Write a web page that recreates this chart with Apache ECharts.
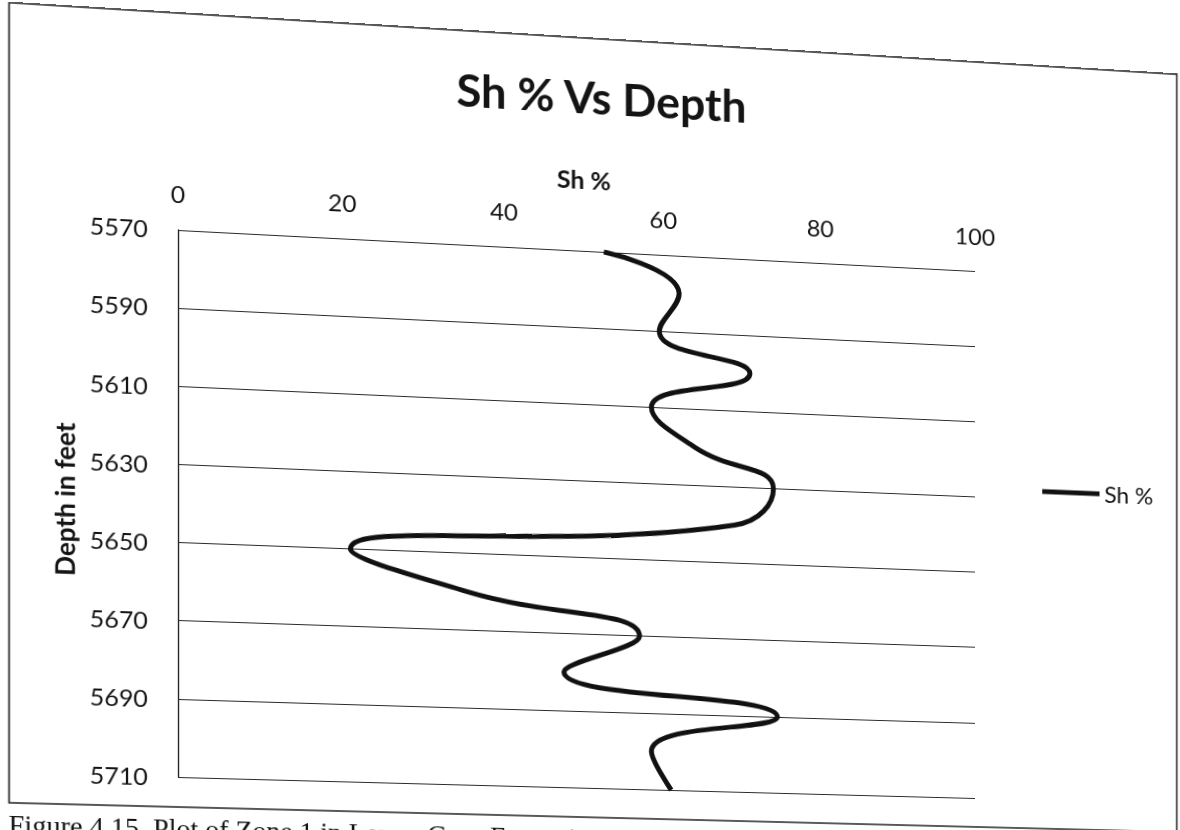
<!DOCTYPE html>
<html>
<head>
<meta charset="utf-8">
<script src="https://cdn.jsdelivr.net/npm/echarts@6/dist/echarts.min.js"></script>
<style>
  html, body { margin: 0; padding: 0; background: #fff; width: 1180px; height: 830px; overflow: hidden; }
  #sheet { position: absolute; left: 0; top: 0; width: 1180px; height: 840px; transform-origin: 0 0; }
</style>
</head>
<body>
<div id="sheet"></div>
<script>
// Zone 1 log: depth (ft) and Sh % read every 10 ft
const depthFeet = [5570, 5580, 5590, 5600, 5610, 5620, 5630, 5640, 5650, 5660, 5670, 5680, 5690, 5700, 5710];
const shPercent = [52.5, 62, 59.5, 71, 58.5, 64, 74, 69, 21, 35.5, 57, 47.5, 74.5, 58.5, 61];

// Axis ranges
const shRange = [0, 100];
const shStep = 20;
const depthRange = [5570, 5710];
const depthStep = 20;

const titleText = 'Sh % Vs Depth';
const seriesName = 'Sh %';
const depthName = 'Depth in feet';
const captionText = 'Figure 4.15. Plot of Zone 1 in Lower Goru Formation';

// Plot rectangle inside the sheet
const PLOT = { left: 166, top: 218, width: 797, height: 547 };
// Where the plot corners land on the printed page (TL, TR, BR, BL)
const PAGE_QUAD = [[178, 230], [975, 271], [975, 798], [178, 777]];

// Projective map: unit square -> quad, then expressed for the sheet's pixel frame
function squareToQuad(q) {
  const [x0, y0] = q[0], [x1, y1] = q[1], [x2, y2] = q[2], [x3, y3] = q[3];
  const dx1 = x1 - x2, dx2 = x3 - x2, dx3 = x0 - x1 + x2 - x3;
  const dy1 = y1 - y2, dy2 = y3 - y2, dy3 = y0 - y1 + y2 - y3;
  const den = dx1 * dy2 - dx2 * dy1;
  const g = (dx3 * dy2 - dx2 * dy3) / den;
  const h = (dx1 * dy3 - dx3 * dy1) / den;
  return {
    a: x1 - x0 + g * x1, b: x3 - x0 + h * x3, c: x0,
    d: y1 - y0 + g * y1, e: y3 - y0 + h * y3, f: y0, g, h
  };
}
function sheetTransform() {
  const { a, b, c, d, e, f, g, h } = squareToQuad(PAGE_QUAD);
  const L = PLOT.left, T = PLOT.top, W = PLOT.width, H = PLOT.height;
  const m = [
    a / W, d / W, 0, g / W,
    b / H, e / H, 0, h / H,
    0, 0, 1, 0,
    c - a * L / W - b * T / H, f - d * L / W - e * T / H, 0, 1 - g * L / W - h * T / H
  ];
  return 'matrix3d(' + m.join(',') + ')';
}

const sheet = document.getElementById('sheet');
sheet.style.transform = sheetTransform();

const chart = echarts.init(sheet, null, { renderer: 'svg' });
const ink = '#141414';
const font = 'Lato, "Open Sans", sans-serif';

chart.setOption({
  animation: false,
  backgroundColor: 'transparent',
  textStyle: { fontFamily: font, color: ink },
  graphic: [
    {
      type: 'rect',
      shape: { x: 4.5, y: 1, width: 1170, height: 794 },
      style: { fill: '#fff', stroke: '#222', lineWidth: 1.6 },
      z: -10
    },
    {
      type: 'text',
      x: 583, y: 60,
      style: { text: titleText, font: 'bold 45px ' + font, fill: ink, align: 'center', verticalAlign: 'middle' }
    },
    {
      type: 'text',
      x: 4, y: 803,
      style: { text: captionText, font: '27px "Liberation Serif", "Times New Roman", serif', fill: '#111', align: 'left', verticalAlign: 'top' }
    }
  ],
  legend: {
    data: [{ name: seriesName, icon: 'rect' }],
    left: 1028, top: 427,
    itemWidth: 60, itemHeight: 5, itemGap: 5,
    itemStyle: { color: '#111' },
    textStyle: { fontFamily: font, fontSize: 24, color: ink }
  },
  grid: { left: PLOT.left, top: PLOT.top, width: PLOT.width, height: PLOT.height, containLabel: false },
  xAxis: {
    type: 'value',
    position: 'top',
    min: shRange[0], max: shRange[1], interval: shStep,
    name: seriesName,
    nameLocation: 'middle',
    nameGap: 60,
    nameTextStyle: { fontFamily: font, fontSize: 25, fontWeight: 'bold', color: ink },
    axisLine: { show: false },
    axisTick: { show: false },
    splitLine: { show: false },
    axisLabel: { fontFamily: font, fontSize: 24, color: ink, margin: 24 }
  },
  yAxis: {
    type: 'value',
    inverse: true,
    min: depthRange[0], max: depthRange[1], interval: depthStep,
    name: depthName,
    nameLocation: 'middle',
    nameGap: 95,
    nameTextStyle: { fontFamily: font, fontSize: 26, fontWeight: 'bold', color: ink },
    axisLine: { show: true, lineStyle: { color: '#222', width: 1.3 } },
    axisTick: { show: false },
    splitLine: { show: true, lineStyle: { color: '#2a2a2a', width: 1.2 } },
    axisLabel: { fontFamily: font, fontSize: 24, color: ink, margin: 29, formatter: (v) => String(v) }
  },
  series: [{
    name: seriesName,
    type: 'line',
    smooth: 0.5,
    symbol: 'none',
    lineStyle: { color: '#111', width: 5 },
    itemStyle: { color: '#111' },
    data: depthFeet.map((d, i) => [shPercent[i], d])
  }]
});
</script>
</body>
</html>
